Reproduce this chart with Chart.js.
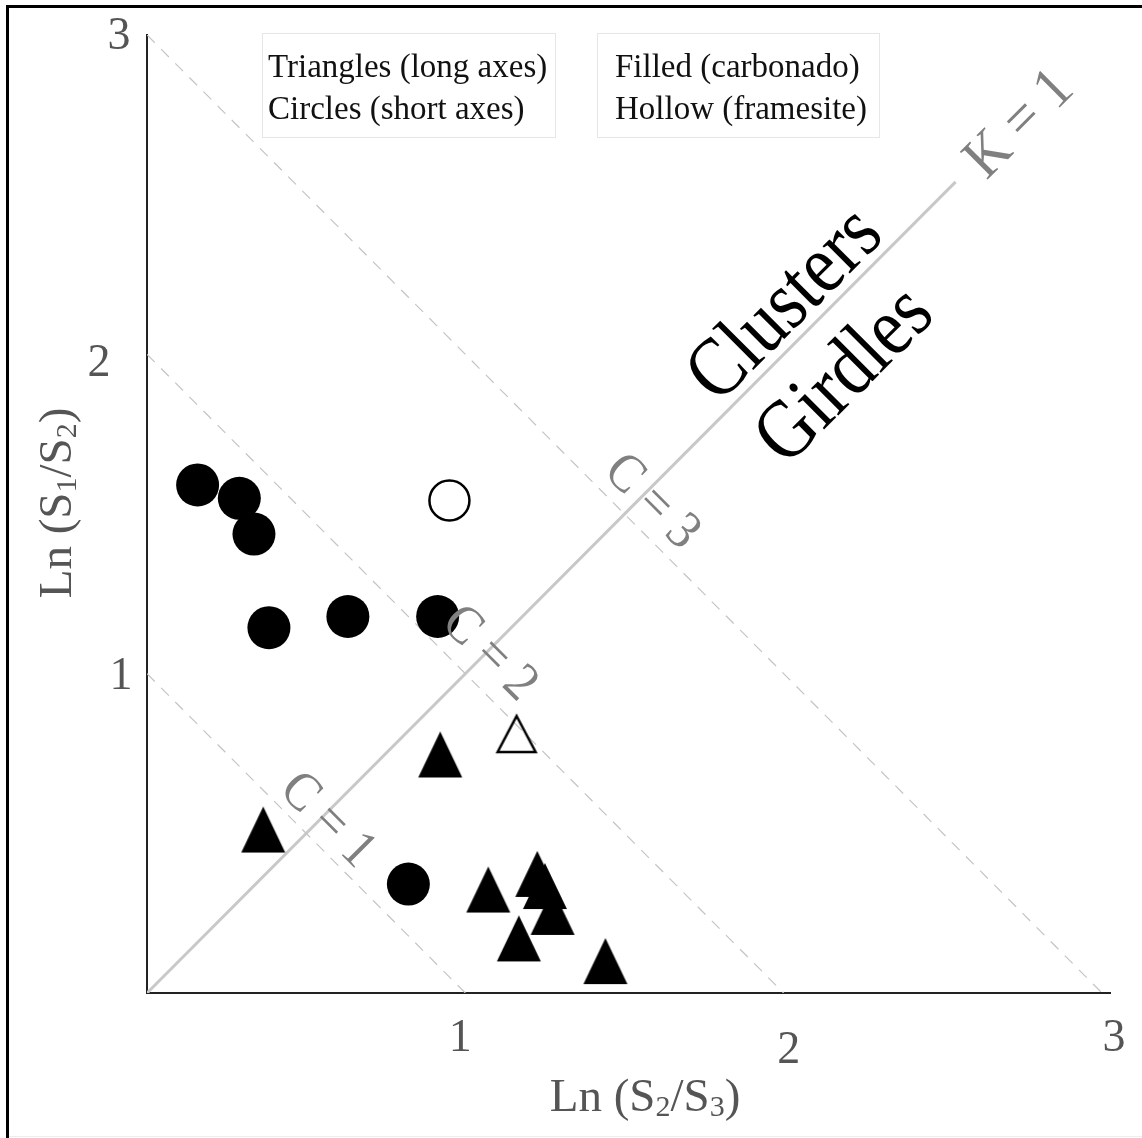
<!DOCTYPE html>
<html><head><meta charset="utf-8">
<script src="https://cdn.jsdelivr.net/npm/chart.js@4.4.0/dist/chart.umd.min.js"></script>
<style>html,body{margin:0;padding:0;background:#fff;}canvas{display:block;}</style>
</head><body>
<canvas id="c" width="1142" height="1138"></canvas>
<script>
// ---------- data ----------
const circleFilledX = [0.159, 0.290, 0.336, 0.383, 0.631, 0.913, 0.821];
const circleFilledY = [1.591, 1.549, 1.437, 1.144, 1.179, 1.179, 0.341];
const circleHollowX = [0.950];
const circleHollowY = [1.542];
const triFilledX = [0.365, 0.921, 1.072, 1.226, 1.250, 1.274, 1.168, 1.440];
const triFilledY = [0.512, 0.747, 0.324, 0.373, 0.335, 0.254, 0.171, 0.100];
const triHollowX = [1.161];
const triHollowY = [0.811];
const cValues = [1, 2, 3];
const kLineEnd = 2.54;
const xTicks = [1, 2, 3];
const yTicks = [1, 2, 3];
const legendLeft = ['Triangles (long axes)', 'Circles (short axes)'];
const legendRight = ['Filled (carbonado)', 'Hollow (framesite)'];

// ---------- layout / style ----------
const xTickOffsets = [[-5, 1039], [5, 1051], [12, 1039]];   // [dx from tick, y]
const yTickOffsets = [[121, 3], [99, 10], [119, 2]];        // [x, dy from tick]
const notes = [
  {text: 'C = 1', x: 0.566, y: 0.540, rot: 45, size: 54, sx: 0.92, color: '#808080'},
  {text: 'C = 2', x: 1.075, y: 1.062, rot: 45, size: 54, sx: 0.92, color: '#808080'},
  {text: 'C = 3', x: 1.585, y: 1.537, rot: 45, size: 54, sx: 0.92, color: '#808080'},
  {text: 'K = 1', x: 2.742, y: 2.718, rot: -45, size: 60, sx: 0.92, color: '#808080'},
  {text: 'Clusters', x: 2.008, y: 2.152, rot: -45, size: 84, sx: 0.86, color: '#000'},
  {text: 'Girdles', x: 2.195, y: 1.930, rot: -45, size: 84, sx: 0.86, color: '#000'}
];
const SERIF = '"Liberation Serif", "Times New Roman", serif';

function makeTri(cw, ch, pts, filled) {
  const c = document.createElement('canvas');
  c.width = cw; c.height = ch;
  const g = c.getContext('2d');
  g.beginPath();
  g.moveTo(pts[0][0], pts[0][1]);
  g.lineTo(pts[1][0], pts[1][1]);
  g.lineTo(pts[2][0], pts[2][1]);
  g.closePath();
  if (filled) { g.fillStyle = '#000'; g.fill(); }
  else { g.lineWidth = 2.5; g.lineJoin = 'miter'; g.strokeStyle = '#000'; g.stroke(); }
  return c;
}
const triFilledImg = makeTri(48, 50, [[24, 2], [46, 48], [2, 48]], true);
const triHollowImg = makeTri(46, 44, [[23, 4], [42, 40], [4, 40]], false);

const zip = (xs, ys) => xs.map((x, i) => ({x: x, y: ys[i]}));

const datasets = [
  {label: 'filled circles', data: zip(circleFilledX, circleFilledY), pointStyle: 'circle',
   pointRadius: 21.5, backgroundColor: '#000', borderWidth: 0, showLine: false, order: 1},
  {label: 'hollow circle', data: zip(circleHollowX, circleHollowY), pointStyle: 'circle',
   pointRadius: 20, backgroundColor: 'rgba(0,0,0,0)', borderColor: '#000', borderWidth: 2.5, showLine: false, order: 1},
  {label: 'filled triangles', data: zip(triFilledX, triFilledY), pointStyle: triFilledImg,
   pointRadius: 22, showLine: false, order: 1},
  {label: 'hollow triangle', data: zip(triHollowX, triHollowY), pointStyle: triHollowImg,
   pointRadius: 20, showLine: false, order: 1},
  {label: 'K = 1', data: [{x: 0, y: 0}, {x: kLineEnd, y: kLineEnd}], showLine: true, pointRadius: 0,
   borderColor: '#c8c8c8', borderWidth: 3, order: 3}
];
cValues.forEach(c => datasets.push({
  label: 'C = ' + c, data: [{x: 0, y: c}, {x: c, y: 0}], showLine: true, pointRadius: 0,
  borderColor: '#c4c4c4', borderWidth: 1.2, borderDash: [11, 9], order: 2
}));

function drawSub(ctx, parts, size) {
  const subSize = Math.round(size * 0.64);
  let total = 0;
  parts.forEach(p => { ctx.font = (p[1] ? subSize : size) + 'px ' + SERIF; total += ctx.measureText(p[0]).width; });
  let x = -total / 2;
  ctx.textAlign = 'left'; ctx.textBaseline = 'alphabetic';
  parts.forEach(p => {
    ctx.font = (p[1] ? subSize : size) + 'px ' + SERIF;
    ctx.fillText(p[0], x, p[1] ? size * 0.33 + 5 : size * 0.33);
    x += ctx.measureText(p[0]).width;
  });
}

const deco = {
  id: 'deco',
  beforeDraw(chart) {
    const ctx = chart.ctx;
    ctx.save();
    ctx.fillStyle = '#fff';
    ctx.fillRect(0, 0, chart.width, chart.height);
    ctx.fillStyle = '#000';
    ctx.fillRect(6, 5, chart.width - 6, 3);
    ctx.fillRect(6, 5, 3, chart.height - 5);
    ctx.fillStyle = '#eeeeee';
    ctx.fillRect(9, chart.height - 2, chart.width - 9, 1);
    ctx.strokeStyle = '#e6e6e6'; ctx.lineWidth = 1;
    ctx.strokeRect(262.5, 33.5, 293, 104);
    ctx.strokeRect(597.5, 33.5, 282, 104);
    ctx.restore();
  },
  afterDatasetsDraw(chart) {
    const ctx = chart.ctx, xs = chart.scales.x, ys = chart.scales.y;
    ctx.save();
    notes.forEach(n => {
      ctx.save();
      ctx.translate(xs.getPixelForValue(n.x), ys.getPixelForValue(n.y));
      ctx.rotate(n.rot * Math.PI / 180);
      ctx.scale(n.sx, 1);
      ctx.font = n.size + 'px ' + SERIF;
      ctx.fillStyle = n.color;
      ctx.textAlign = 'center'; ctx.textBaseline = 'middle';
      ctx.fillText(n.text, 0, 0);
      ctx.restore();
    });
    ctx.restore();
  },
  afterDraw(chart) {
    const ctx = chart.ctx, xs = chart.scales.x, ys = chart.scales.y;
    ctx.save();
    ctx.font = '46px ' + SERIF;
    ctx.fillStyle = '#555';
    ctx.textAlign = 'center'; ctx.textBaseline = 'middle';
    xTicks.forEach((t, i) => {
      ctx.fillText(String(t), xs.getPixelForValue(t) + xTickOffsets[i][0], xTickOffsets[i][1]);
    });
    yTicks.forEach((t, i) => {
      ctx.fillText(String(t), yTickOffsets[i][0], ys.getPixelForValue(t) + yTickOffsets[i][1]);
    });
    ctx.fillStyle = '#555';
    ctx.save();
    ctx.translate(645, 1095);
    drawSub(ctx, [['Ln (S', 0], ['2', 1], ['/S', 0], ['3', 1], [')', 0]], 47);
    ctx.restore();
    ctx.save();
    ctx.translate(55, 503);
    ctx.rotate(-Math.PI / 2);
    drawSub(ctx, [['Ln (S', 0], ['1', 1], ['/S', 0], ['2', 1], [')', 0]], 47);
    ctx.restore();
    ctx.fillStyle = '#111';
    ctx.font = '33px ' + SERIF;
    ctx.textAlign = 'left'; ctx.textBaseline = 'alphabetic';
    legendLeft.forEach((t, i) => ctx.fillText(t, 268, 77 + i * 42));
    legendRight.forEach((t, i) => ctx.fillText(t, 615, 77 + i * 42));
    ctx.restore();
  }
};

new Chart(document.getElementById('c'), {
  type: 'scatter',
  data: {datasets: datasets},
  options: {
    responsive: false,
    animation: false,
    devicePixelRatio: 1,
    layout: {padding: {left: 147, right: 32, top: 35, bottom: 145}},
    plugins: {legend: {display: false}, tooltip: {enabled: false}},
    scales: {
      x: {type: 'linear', min: 0, max: 3.025,
          grid: {display: false, drawTicks: false},
          border: {display: true, color: '#222', width: 2},
          ticks: {display: false}},
      y: {type: 'linear', min: 0, max: 3,
          grid: {display: false, drawTicks: false},
          border: {display: true, color: '#222', width: 2},
          ticks: {display: false}}
    }
  },
  plugins: [deco]
});
</script>
</body></html>
